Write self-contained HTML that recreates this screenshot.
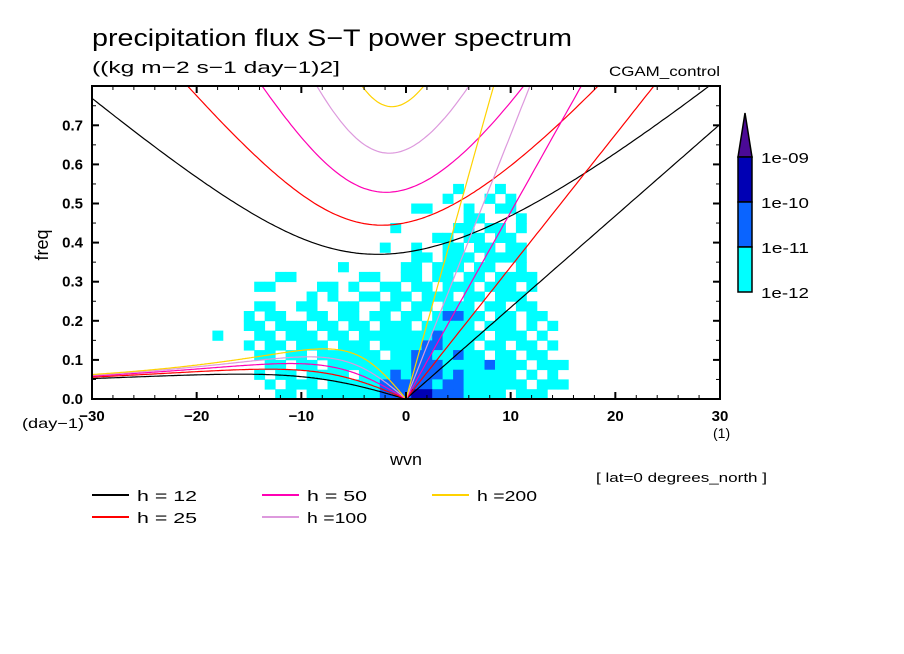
<!DOCTYPE html>
<html><head><meta charset="utf-8">
<style>
html,body{margin:0;padding:0;background:#fff;}
svg{display:block;}
text{font-family:"Liberation Sans",sans-serif;fill:#000;}
</style></head>
<body>
<svg id="chart" width="904" height="654" viewBox="0 0 904 654" xmlns="http://www.w3.org/2000/svg">
<rect width="904" height="654" fill="#fff"/>
<text x="92" y="46" font-size="24" textLength="480" lengthAdjust="spacingAndGlyphs">precipitation flux S−T power spectrum</text>
<text x="92" y="73" font-size="17" textLength="248" lengthAdjust="spacingAndGlyphs">((kg m−2 s−1 day−1)2]</text>
<text x="609" y="76" font-size="14" textLength="111" lengthAdjust="spacingAndGlyphs">CGAM_control</text>
<defs><clipPath id="pc"><rect x="92" y="86" width="628" height="313"/></clipPath></defs>
<g id="cells" clip-path="url(#pc)"></g>
<g id="curves" clip-path="url(#pc)"></g>
<g id="axes"></g>
<g id="cbar"></g>
<g id="legend"></g>
<text x="0" y="0" font-size="18" text-anchor="middle" transform="translate(48,245) rotate(-90)">freq</text>
<text x="22" y="428" font-size="14" textLength="62" lengthAdjust="spacingAndGlyphs">(day−1)</text>
<text x="390" y="465" font-size="17" textLength="32" lengthAdjust="spacingAndGlyphs">wvn</text>
<text x="713" y="438" font-size="14">(1)</text>
<text x="596" y="482" font-size="13" textLength="171" lengthAdjust="spacingAndGlyphs">[ lat=0 degrees_north ]</text>
</svg>
<script>
// ---- data ----
const depths = [12, 25, 50, 100, 200];
const depthLabels = ["h = 12", "h = 25", "h = 50", "h =100", "h =200"];
const depthColors = ["#000000", "#ff0000", "#ff00b4", "#dd99dd", "#ffd200"];
const xTicks = [-30, -20, -10, 0, 10, 20, 30];
const yTicks = [0.0, 0.1, 0.2, 0.3, 0.4, 0.5, 0.6, 0.7];
const levelLabels = ["1e-09", "1e-10", "1e-11", "1e-12"];
const levelColors = ["#ffffff", "#00ffff", "#0a64ff", "#0000b4", "#4b0a96"];
const gridK0 = -20;
const gridDf = 0.025;
const powerRows = [
"00000 00000 00000 00000 00000 10001 00000 00",
"00000 00000 00000 00000 00001 00010 10000 00",
"00000 00000 00000 00000 01100 01001 10000 00",
"00000 00000 00000 00000 00000 01100 01000 00",
"00000 00000 00000 00001 00000 11011 01000 00",
"00000 00000 00000 00000 00011 01101 10000 00",
"00000 00000 00000 00010 01001 10110 11000 00",
"00000 00000 00000 00000 01101 11011 11000 00",
"00000 00000 00001 00000 11011 10110 01000 00",
"00000 00011 00000 01100 11011 01101 11100 00",
"00000 01100 00110 10011 01101 11011 10100 00",
"00000 00000 01010 01101 10111 01101 11000 00",
"00000 01100 11001 10011 01101 11011 01100 00",
"00000 10110 01101 10110 11012 21101 10110 00",
"00000 11011 10110 11011 10111 11011 10101 00",
"00100 01101 11011 01111 11121 11101 11010 00",
"00000 10110 11101 11011 11221 11011 01101 00",
"00000 01101 10111 11101 12211 21101 10110 00",
"00000 00110 11011 11111 12221 11121 11011 10",
"00000 01011 01111 01112 12221 21111 10101 00",
"00000 00101 11011 11122 22212 21111 11011 10",
"00000 00011 01111 11122 23322 21111 01110 00"
];
// ---- axes ----
const X0=92, X1=720, Y0=399, Y1=86, XMIN=-30, XMAX=30, FPX=391;
const xs = k => X0 + (k - XMIN) * (X1 - X0) / (XMAX - XMIN);
const ys = f => Y0 - f * FPX;
const NS = "http://www.w3.org/2000/svg";
function mk(tag, attrs, parent){const e=document.createElementNS(NS,tag);for(const a in attrs)e.setAttribute(a,attrs[a]);parent.appendChild(e);return e;}
const cells=document.getElementById('cells');
powerRows.forEach((r,ri)=>{
  const s=r.replace(/ /g,'');
  const fTop=(powerRows.length-ri)*gridDf;
  for(let c=0;c<s.length;c++){
    const v=+s[c]; if(!v) continue;
    const k=gridK0+c;
    const x=xs(k-0.5), x2=xs(k+0.5), y=ys(fTop), y2=ys(fTop-gridDf);
    const el=mk('rect',{x:x.toFixed(1),y:y.toFixed(1),width:(x2-x+0.4).toFixed(1),height:(y2-y+0.4).toFixed(1),fill:levelColors[v]},cells);
    
    
  }
});
const g=9.81, beta=2.29e-11, a=6.371e6, day=86400;
const toCpd = w => w*day/(2*Math.PI);
function roots(kw,c){
  const k=kw/a;
  const p=-(c*c*k*k+3*beta*c), q=-beta*c*c*k;
  const m=2*Math.sqrt(-p/3);
  let arg=3*q/(2*p)*Math.sqrt(-3/p); arg=Math.max(-1,Math.min(1,arg));
  const th=Math.acos(arg)/3;
  return [0,1,2].map(j=>m*Math.cos(th-2*Math.PI*j/3));
}
const curves=document.getElementById('curves');
depths.forEach((h,i)=>{
  const c=Math.sqrt(g*h);
  let kel=[],ig=[],ros=[];
  for(let kw=0;kw<=30;kw+=0.25) kel.push([kw,toCpd(c*kw/a)]);
  for(let kw=-30;kw<=30;kw+=0.25){const r=roots(kw,c);ig.push([kw,toCpd(Math.max(...r))]);}
  for(let kw=-30;kw<=0.001;kw+=0.1){const r=roots(kw,c);let best=r.reduce((b,v)=>Math.abs(v)<Math.abs(b)?v:b);ros.push([kw,toCpd(Math.abs(best))]);}
  [["kelvin",kel],["ig",ig],["rossby",ros]].forEach(([nm,pts])=>{
    const d=pts.map((p,j)=>(j?'L':'M')+xs(p[0]).toFixed(1)+','+ys(p[1]).toFixed(1)).join('');
    const el=mk('path',{d:d,fill:'none',stroke:depthColors[i],'stroke-width':1.2},curves);
    
    
  });
});
const ax=document.getElementById('axes');
mk('rect',{x:X0,y:Y1,width:X1-X0,height:Y0-Y1,fill:'none',stroke:'#000','stroke-width':2},ax);
for(let k=-30;k<=30;k+=2){const maj=k%10===0;const L=maj?7:4;
  mk('line',{x1:xs(k),y1:Y0,x2:xs(k),y2:Y0-L,stroke:'#000','stroke-width':maj?2:1},ax);
  mk('line',{x1:xs(k),y1:Y1,x2:xs(k),y2:Y1+L,stroke:'#000','stroke-width':maj?2:1},ax);}
for(let j=0;j<=15;j++){const f=j*0.05;const maj=j%2===0;const L=maj?7:4;
  mk('line',{x1:X0,y1:ys(f),x2:X0+L,y2:ys(f),stroke:'#000','stroke-width':maj?2:1},ax);
  mk('line',{x1:X1,y1:ys(f),x2:X1-L,y2:ys(f),stroke:'#000','stroke-width':maj?2:1},ax);}
xTicks.forEach(k=>{const t=mk('text',{x:xs(k),y:Y0+22,'font-size':15,'font-weight':'bold','text-anchor':'middle'},ax);t.textContent=(k<0?'−':'')+Math.abs(k);
  
  });
yTicks.forEach(f=>{const t=mk('text',{x:X0-9,y:ys(f)+5,'font-size':15,'font-weight':'bold','text-anchor':'end'},ax);t.textContent=f.toFixed(1);
  
  });
const cb=document.getElementById('cbar');
const cbY=[157,202,247,292];
mk('polygon',{points:'738,157 752,157 745,113',fill:levelColors[4],stroke:'#000','stroke-width':1.5},cb);
for(let i=0;i<3;i++){mk('rect',{x:738,y:cbY[i],width:14,height:cbY[i+1]-cbY[i],fill:levelColors[3-i],stroke:'#000','stroke-width':1.5},cb);}
levelLabels.forEach((l,i)=>{const t=mk('text',{x:761,y:cbY[i]+6,'font-size':15,textLength:48,lengthAdjust:'spacingAndGlyphs'},cb);t.textContent=l;
  
  });
const lg=document.getElementById('legend');
const lx=[92,262,432], ly=[495,517];
depths.forEach((h,i)=>{const col=Math.floor(i/2), row=i%2;
  const ln=mk('line',{x1:lx[col],y1:ly[row],x2:lx[col]+37,y2:ly[row],stroke:depthColors[i],'stroke-width':2},lg);
  
  
  const t=mk('text',{x:lx[col]+45,y:ly[row]+6,'font-size':15,textLength:60,lengthAdjust:'spacingAndGlyphs'},lg);t.textContent=depthLabels[i];
  
  });
</script>
</body></html>
